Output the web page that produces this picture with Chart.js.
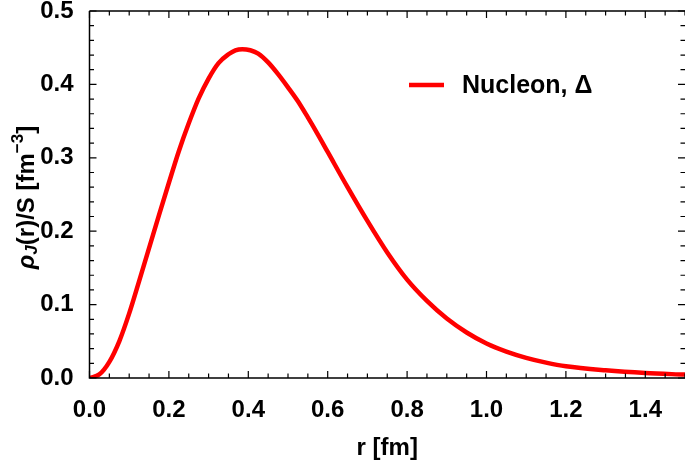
<!DOCTYPE html>
<html>
<head>
<meta charset="utf-8">
<script src="https://cdn.jsdelivr.net/npm/chart.js@4/dist/chart.umd.min.js"></script>
<style>
  html, body { margin: 0; padding: 0; background: #fff; }
  canvas { display: block; }
</style>
</head>
<body>
<canvas id="rhoChart" width="685" height="461"></canvas>
<script>
// radial distribution
const rValues = [0, 0.025, 0.05, 0.075, 0.1, 0.125, 0.15, 0.175, 0.2, 0.225, 0.25, 0.275, 0.3, 0.325, 0.35, 0.3675, 0.385, 0.405, 0.425, 0.45, 0.475, 0.5, 0.525, 0.55, 0.575, 0.6, 0.65, 0.7, 0.75, 0.8, 0.85, 0.9, 0.95, 1.0, 1.05, 1.1, 1.15, 1.2, 1.3, 1.4, 1.5];
const rhoValues = [0, 0.005, 0.022, 0.050, 0.088, 0.132, 0.177, 0.222, 0.266, 0.309, 0.347, 0.381, 0.408, 0.429, 0.441, 0.4465, 0.448, 0.4465, 0.442, 0.430, 0.414, 0.396, 0.377, 0.355, 0.332, 0.308, 0.260, 0.214, 0.171, 0.134, 0.105, 0.081, 0.062, 0.047, 0.036, 0.0275, 0.021, 0.016, 0.0105, 0.0068, 0.0046];

const xTicks = [0, 0.2, 0.4, 0.6, 0.8, 1.0, 1.2, 1.4];
const yTicks = [0, 0.1, 0.2, 0.3, 0.4, 0.5];
const seriesLabel = 'Nucleon, Δ';

const FONT = '"Liberation Sans", Arial, sans-serif';
const RED = '#ff0000';

// inner tick marks on all four sides + titles + legend
const framePlugin = {
    id: 'frame',
    afterDraw(chart) {
        const { ctx, chartArea: a, scales } = chart;
        const xs = scales.x, ys = scales.y;
        ctx.save();
        ctx.strokeStyle = '#000';
        ctx.lineWidth = 1.5;
        ctx.beginPath();
        ctx.moveTo(a.left, a.top);
        ctx.lineTo(a.left, a.bottom);
        ctx.lineTo(a.right + 2, a.bottom);
        ctx.moveTo(a.left, a.top);
        ctx.lineTo(a.right + 2, a.top);
        ctx.stroke();

        ctx.lineWidth = 1.2;
        ctx.beginPath();
        for (let i = 0; i <= 30; i++) {
            const px = xs.getPixelForValue(i * 0.05);
            const len = i % 4 === 0 ? 7 : 4.5;
            ctx.moveTo(px, a.bottom); ctx.lineTo(px, a.bottom - len);
            ctx.moveTo(px, a.top); ctx.lineTo(px, a.top + len);
        }
        for (let i = 0; i <= 25; i++) {
            const py = ys.getPixelForValue(i * 0.02);
            const len = i % 5 === 0 ? 7 : 4.5;
            ctx.moveTo(a.left, py); ctx.lineTo(a.left + len, py);
            ctx.moveTo(a.right, py); ctx.lineTo(a.right - len, py);
        }
        ctx.stroke();

        // x title
        ctx.fillStyle = '#000';
        ctx.font = 'bold 24px ' + FONT;
        ctx.textAlign = 'center';
        ctx.textBaseline = 'alphabetic';
        ctx.fillText('r [fm]', (a.left + a.right) / 2, 455);

        // y title, rotated, with sub/superscript
        const parts = [
            { t: 'ρ', f: 'italic bold 24px ' + FONT, dy: 0 },
            { t: 'J', f: 'italic bold 17px ' + FONT, dy: 3 },
            { t: '(r)/S [fm', f: 'bold 24px ' + FONT, dy: 0 },
            { t: '−3', f: 'bold 17px ' + FONT, dy: -11 },
            { t: ']', f: 'bold 24px ' + FONT, dy: 0 }
        ];
        let total = 0;
        parts.forEach(p => { ctx.font = p.f; p.w = ctx.measureText(p.t).width; total += p.w; });
        ctx.translate(34, 197.5);
        ctx.rotate(-Math.PI / 2);
        ctx.textAlign = 'left';
        let u = -total / 2;
        parts.forEach(p => {
            ctx.font = p.f;
            ctx.fillText(p.t, u, p.dy);
            u += p.w;
        });
        ctx.restore();

        // legend
        ctx.save();
        ctx.strokeStyle = RED;
        ctx.lineWidth = 4.5;
        ctx.beginPath();
        ctx.moveTo(409, 85);
        ctx.lineTo(444, 85);
        ctx.stroke();
        ctx.fillStyle = '#000';
        ctx.font = 'bold 25px ' + FONT;
        ctx.textBaseline = 'alphabetic';
        ctx.fillText(seriesLabel, 462, 93);
        ctx.restore();
    }
};

const ctx = document.getElementById('rhoChart').getContext('2d');
const rhoChart = new Chart(ctx, {
    type: 'scatter',
    data: {
        datasets: [{
            label: seriesLabel,
            data: rValues.map((r, i) => ({ x: r, y: rhoValues[i] })),
            showLine: true,
            borderColor: RED,
            borderWidth: 4.5,
            pointRadius: 0,
            cubicInterpolationMode: 'monotone',
            borderCapStyle: 'round',
            fill: false
        }]
    },
    options: {
        responsive: false,
        animation: false,
        devicePixelRatio: 1,
        layout: { padding: { top: 11, right: 0, left: 0, bottom: 0 } },
        plugins: {
            legend: { display: false },
            tooltip: { enabled: false }
        },
        scales: {
            x: {
                type: 'linear',
                min: 0,
                max: 1.5,
                grid: { display: false },
                border: { display: false },
                afterBuildTicks: s => { s.ticks = xTicks.map(v => ({ value: v })); },
                afterFit: s => { s.height = 83; s.paddingLeft = 0; s.paddingRight = 0; },
                ticks: {
                    color: '#000',
                    padding: 10,
                    maxRotation: 0,
                    font: { family: FONT, size: 24, weight: 'bold' },
                    callback: v => v.toFixed(1)
                }
            },
            y: {
                type: 'linear',
                min: 0,
                max: 0.5,
                grid: { display: false },
                border: { display: false },
                afterBuildTicks: s => { s.ticks = yTicks.map(v => ({ value: v })); },
                afterFit: s => { s.width = 89.5; s.paddingTop = 0; s.paddingBottom = 0; },
                ticks: {
                    color: '#000',
                    padding: 8,
                    font: { family: FONT, size: 24, weight: 'bold' },
                    callback: v => v.toFixed(1)
                }
            }
        }
    },
    plugins: [framePlugin]
});
</script>
</body>
</html>
